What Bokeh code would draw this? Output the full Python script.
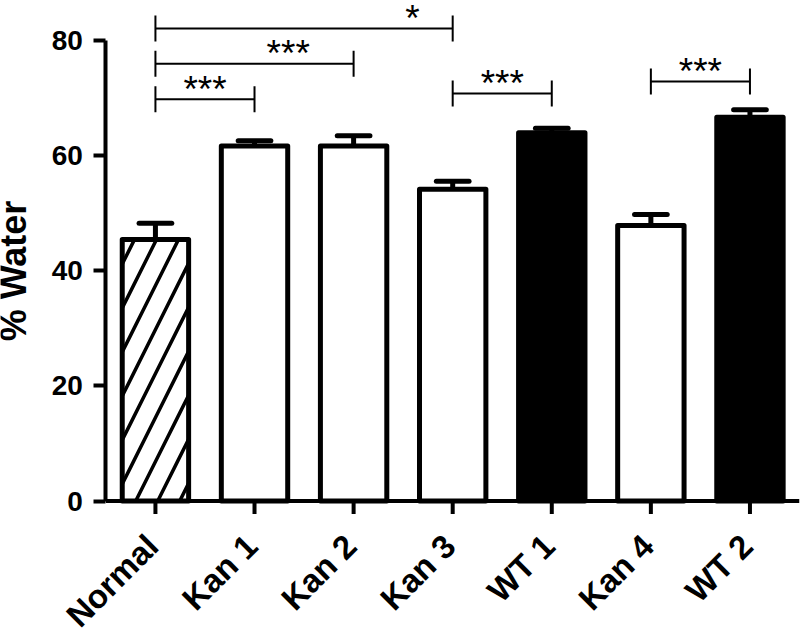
import math
from bokeh.plotting import figure
from bokeh.models import Range1d, FixedTicker, ColumnDataSource
from bokeh.embed import file_html
from bokeh.resources import INLINE
from bokeh.core.properties import value

# ---------------- data ----------------
categories = ["Normal", "Kan 1", "Kan 2", "Kan 3", "WT 1", "Kan 4", "WT 2"]
groups = ["normal", "kan", "kan", "kan", "wt", "kan", "wt"]
water_mean = [45.4, 61.6, 61.6, 54.1, 63.9, 47.8, 66.6]
water_sem = [2.8, 0.9, 1.8, 1.4, 0.8, 1.9, 1.3]
y_ticks = [0, 20, 40, 60, 80]

bracket_from = ["Normal", "Normal", "Normal", "Kan 3", "Kan 4"]
bracket_to = ["Kan 3", "Kan 2", "Kan 1", "WT 1", "WT 2"]
bracket_level = [82.0, 75.9, 69.7, 70.7, 72.8]
bracket_text = ["*", "***", "***", "***", "***"]

# ---------------- styling ----------------
FONT = "Liberation Sans"
fill_by_group = {"normal": "white", "kan": "white", "wt": "black"}
hatch_by_group = {"normal": "/", "kan": " ", "wt": " "}
label_frac = [0.865, 0.67, 0.5, 0.5, 0.5]   # where the stars sit along each bracket
BAR_W = 0.67
CAP_W = 0.33
PX_Y = 1 / 5.7625          # one pixel in y data units
PX_X = 1 / 99.1            # one pixel in x data units
TICK_H = 13 * PX_Y         # half height of bracket end ticks
STAR_LIFT = 1.7            # star baseline relative to the bracket line
XTICK_LEN = 13 * PX_Y
XLAB_DX, XLAB_DY = -3 * PX_X, -39.5 * PX_Y

xpos = list(range(len(categories)))
tops = [m + s for m, s in zip(water_mean, water_sem)]
x_lo, x_hi = xpos[0] - 0.5, xpos[-1] + 0.5

src = ColumnDataSource(dict(
    x=xpos, top=water_mean, upper=tops,
    fill=[fill_by_group[g] for g in groups],
    hatch=[hatch_by_group[g] for g in groups],
    cl=[x - CAP_W / 2 for x in xpos], cr=[x + CAP_W / 2 for x in xpos],
))

p = figure(width=800, height=630,
           x_range=Range1d(x_lo - 105.4 * PX_X, x_hi),
           y_range=Range1d(-129.5 * PX_Y, 500.5 * PX_Y),
           output_backend="svg", toolbar_location=None, x_axis_location=None,
           min_border_left=0, min_border_right=1, min_border_top=0, min_border_bottom=0)
p.outline_line_color = None
p.xgrid.visible = False
p.ygrid.visible = False
p.background_fill_color = "white"
p.border_fill_color = "white"

# bars
p.vbar(x="x", top="top", bottom=0, width=BAR_W, source=src,
       fill_color="fill", line_color="black", line_width=5, line_join="round",
       hatch_pattern="hatch", hatch_color="black", hatch_weight=3.5, hatch_scale=44)

# error bars (upper only)
p.segment(x0="x", y0="top", x1="x", y1="upper", source=src, line_color="black", line_width=5)
p.segment(x0="cl", y0="upper", x1="cr", y1="upper", source=src, line_color="black",
          line_width=5, line_cap="round")

# significance brackets
bx0 = [categories.index(c) for c in bracket_from]
bx1 = [categories.index(c) for c in bracket_to]
bsrc = ColumnDataSource(dict(
    x0=bx0, x1=bx1, y=bracket_level,
    ylo=[v - TICK_H for v in bracket_level], yhi=[v + TICK_H for v in bracket_level],
    tx=[a + f * (b - a) for a, b, f in zip(bx0, bx1, label_frac)],
    ty=[v + STAR_LIFT for v in bracket_level], text=bracket_text,
))
p.segment(x0="x0", y0="y", x1="x1", y1="y", source=bsrc, line_color="black", line_width=2)
p.segment(x0="x0", y0="ylo", x1="x0", y1="yhi", source=bsrc, line_color="black", line_width=2)
p.segment(x0="x1", y0="ylo", x1="x1", y1="yhi", source=bsrc, line_color="black", line_width=2)
p.text(x="tx", y="ty", text="text", source=bsrc, text_align="center", text_baseline="alphabetic",
       text_font=value(FONT), text_font_size="37px", text_color="black")

# x axis (baseline, ticks and rotated category labels)
p.segment(x0=[x_lo], y0=[0], x1=[x_hi], y1=[0], line_color="black", line_width=4)
xsrc = ColumnDataSource(dict(
    x=xpos, y0=[0] * len(xpos), y1=[-XTICK_LEN] * len(xpos),
    lx=[x + XLAB_DX for x in xpos], ly=[XLAB_DY] * len(xpos), name=categories,
))
p.segment(x0="x", y0="y0", x1="x", y1="y1", source=xsrc, line_color="black", line_width=4)
p.text(x="lx", y="ly", text="name", source=xsrc, angle=math.pi / 4,
       text_align="right", text_baseline="alphabetic",
       text_font=value(FONT), text_font_style="bold", text_font_size="33px", text_color="black")

# y axis, drawn at the left edge of the first category
ax = p.yaxis[0]
ax.fixed_location = x_lo
ax.bounds = (0, 80)
ax.ticker = FixedTicker(ticks=y_ticks)
ax.axis_line_width = 4
ax.axis_line_color = "black"
ax.major_tick_line_width = 4
ax.major_tick_line_color = "black"
ax.major_tick_out = 12
ax.major_tick_in = 0
ax.minor_tick_line_color = None
ax.major_label_text_font = FONT
ax.major_label_text_font_style = "bold"
ax.major_label_text_color = "black"
ax.major_label_text_font_size = "28px"
ax.major_label_standoff = 11
ax.axis_label = "% Water"
ax.axis_label_standoff = 14
ax.axis_label_text_font = FONT
ax.axis_label_text_font_style = "bold"
ax.axis_label_text_font_size = "36px"
ax.axis_label_text_color = "black"

open("out.html", "w").write(file_html(p, INLINE))
